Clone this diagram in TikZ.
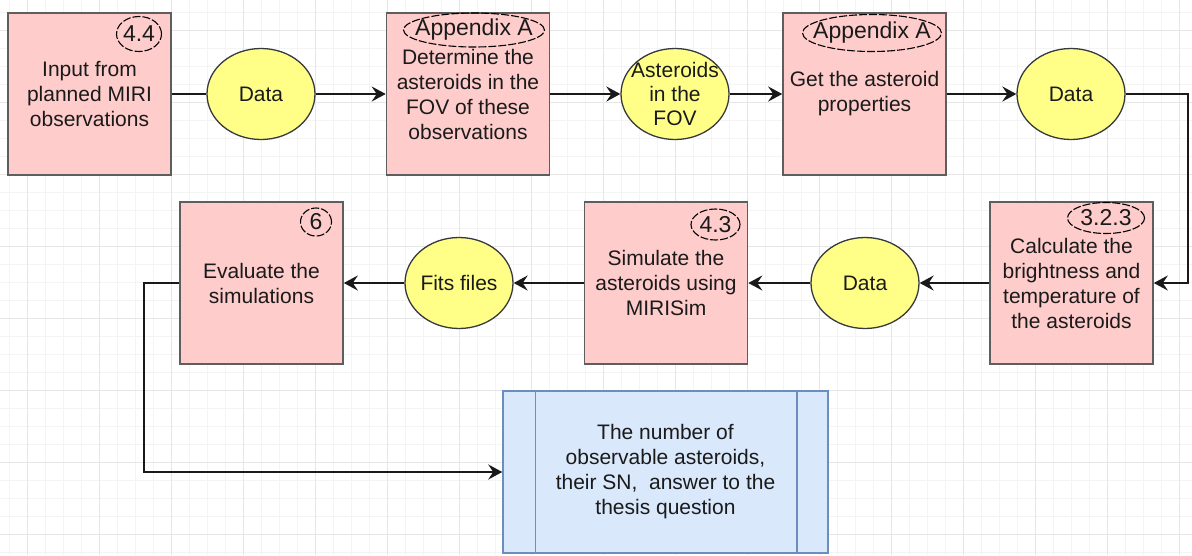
\documentclass[tikz,border=0pt]{standalone}
\usepackage{fontspec}
\setmainfont{Liberation Sans}
\usetikzlibrary{shapes.geometric,arrows.meta}
\definecolor{pinkfill}{HTML}{FFCCCC}
\definecolor{boxline}{HTML}{5E5E5E}
\definecolor{yelfill}{HTML}{FFFF88}
\definecolor{yelline}{HTML}{36393D}
\definecolor{bluefill}{HTML}{DAE8FC}
\definecolor{blueline}{HTML}{6C8EBF}
\definecolor{gridmajor}{HTML}{E6E6E6}
\definecolor{gridminor}{HTML}{F4F4F4}
\definecolor{txt}{HTML}{1A1A1A}
\begin{document}
\begin{tikzpicture}[x=1pt,y=-1pt,
  procbox/.style={rectangle, draw=boxline, fill=pinkfill, line width=1.6pt,
    minimum width=163pt, minimum height=162pt, align=center,
    font=\fontsize{21}{25}\selectfont, text=txt, inner sep=0pt},
  outbox/.style={rectangle, draw=blueline, fill=bluefill, line width=1.5pt,
    minimum width=325pt, minimum height=162pt, align=center,
    font=\fontsize{21}{25}\selectfont, text=txt, inner sep=0pt},
  dataell/.style={ellipse, draw=yelline, fill=yelfill, line width=1.3pt,
    inner sep=0pt, minimum width=108pt, minimum height=91pt},
  dtext/.style={align=center, font=\fontsize{21}{24}\selectfont, text=txt, inner sep=0pt},
  tag/.style={ellipse, draw=black, dash pattern=on 8pt off 2pt, line width=1.1pt, inner sep=0pt},
  ttext/.style={font=\fontsize{23}{27}\selectfont, text=txt, inner sep=0pt},
  flow/.style={draw=black!90, line width=2pt, -{Stealth[length=14pt,width=15pt,inset=5pt]}},
  plainline/.style={draw=black!90, line width=2pt}
]
\useasboundingbox (0,0) rectangle (1192,555);
\fill[white] (0,0) rectangle (1192,555);
% grid
\foreach \i in {0,...,65}{\pgfmathsetmacro\gx{9.3+18*\i}
  \draw[gridminor, line width=1pt] (\gx,0) -- (\gx,555);}
\foreach \i in {0,...,30}{\pgfmathsetmacro\gy{12.7+18*\i}
  \draw[gridminor, line width=1pt] (0,\gy) -- (1192,\gy);}
\foreach \i in {0,...,16}{\pgfmathsetmacro\gx{27.3+72*\i}
  \draw[gridmajor, line width=1pt] (\gx,0) -- (\gx,555);}
\foreach \i in {0,...,7}{\pgfmathsetmacro\gy{30.7+72*\i}
  \draw[gridmajor, line width=1pt] (0,\gy) -- (1192,\gy);}

% top row
\node[procbox] (b1) at (89.5,94) {Input from\\planned MIRI\\observations};
\node[dataell, label={[dtext]center:Data}] (d1) at (261,94) {};
\node[procbox] (b2) at (468,94) {Determine the\\asteroids in the\\FOV of these\\observations};
\node[dataell, label={[dtext]center:{Asteroids\\in the\\FOV}}] (fov) at (675,94) {};
\node[procbox] (b3) at (864.5,94) {Get the asteroid\\properties};
\node[dataell, label={[dtext]center:Data}] (d2) at (1071,94) {};

% bottom row
\node[procbox] (b4) at (1071.5,283) {Calculate the\\brightness and\\temperature of\\the asteroids};
\node[dataell, label={[dtext]center:Data}] (d3) at (865,283) {};
\node[procbox] (b5) at (666,283) {Simulate the\\asteroids using\\MIRISim};
\node[dataell, label={[dtext]center:Fits files}] (fits) at (459,283) {};
\node[procbox] (b6) at (261.5,283) {Evaluate the\\simulations};

% output
\node[outbox] (out) at (665.5,472) {The number of\\observable asteroids,\\their SN,~ answer to the\\thesis question};
\draw[blueline, line width=1.5pt] ([xshift=33pt]out.north west) -- ([xshift=33pt]out.south west);
\draw[blueline, line width=1.5pt] ([xshift=-32pt]out.north east) -- ([xshift=-32pt]out.south east);

% tags
\node[tag, minimum width=45pt, minimum height=35pt, label={[ttext]center:4.4}] (t1) at (139,34) {};
\node[tag, minimum width=141pt, minimum height=34pt, label={[ttext]center:Appendix A}] (t2) at (474,30) {};
\node[tag, minimum width=139pt, minimum height=37pt, label={[ttext]center:Appendix A}] (t3) at (872,33) {};
\node[tag, minimum width=77pt, minimum height=31pt, label={[ttext]center:3.2.3}] (t4) at (1106,218) {};
\node[tag, minimum width=49pt, minimum height=31pt, label={[ttext]center:4.3}] (t5) at (715.5,224.5) {};
\node[tag, minimum width=31pt, minimum height=28pt, label={[ttext]center:6}] (t6) at (316,222) {};

% connectors
\coordinate (cr) at (1188,0);
\coordinate (cl) at (144,0);
\draw[plainline] (b1.east) -- (d1.west);
\draw[flow] (d1.east) -- (b2.west);
\draw[flow] (b2.east) -- (fov.west);
\draw[flow] (fov.east) -- (b3.west);
\draw[flow] (b3.east) -- (d2.west);
\draw[flow] (d2.east) -- (d2.east -| cr) |- (b4.east);
\draw[flow] (b4.west) -- (d3.east);
\draw[flow] (d3.west) -- (b5.east);
\draw[flow] (b5.west) -- (fits.east);
\draw[flow] (fits.west) -- (b6.east);
\draw[flow] (b6.west) -- (b6.west -| cl) |- (out.west);
\end{tikzpicture}
\end{document}
